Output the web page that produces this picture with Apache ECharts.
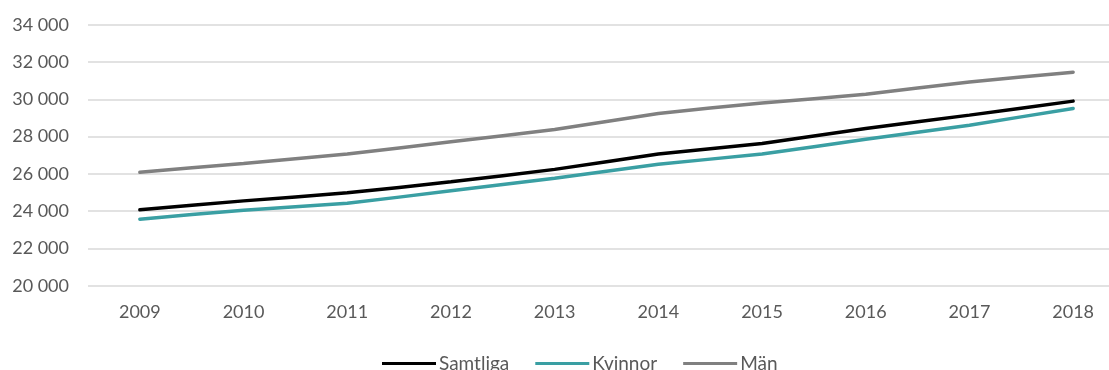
<!DOCTYPE html>
<html>
<head>
<meta charset="utf-8">
<script src="https://cdn.jsdelivr.net/npm/echarts@6/dist/echarts.min.js"></script>
<style>
  html, body { margin: 0; padding: 0; background: #fff; overflow: hidden; }
  #chart { width: 1109px; height: 370px; }
</style>
</head>
<body>
<div id="chart"></div>
<script>
// Years on the category axis
const years = ['2009', '2010', '2011', '2012', '2013', '2014', '2015', '2016', '2017', '2018'];

// Values per group
const samtliga = [24070, 24550, 24980, 25570, 26240, 27060, 27630, 28430, 29150, 29900];
const kvinnor  = [23570, 24050, 24420, 25090, 25760, 26520, 27060, 27860, 28610, 29510];
const man      = [26080, 26560, 27060, 27720, 28380, 29240, 29800, 30270, 30930, 31450];

const seriesNames = ['Samtliga', 'Kvinnor', 'Män'];
const seriesColors = ['#000000', '#3a9fa3', '#808080'];
const seriesData = [samtliga, kvinnor, man];

const textColor = '#595959';
const fontFamily = 'Lato, "Open Sans", sans-serif';

const chart = echarts.init(document.getElementById('chart'), null, { renderer: 'canvas' });

chart.setOption({
  animation: false,
  textStyle: { fontFamily: fontFamily },
  // plot area runs past the right edge of the canvas
  grid: { left: 88, width: 1037, top: 24.7, bottom: 84.3, outerBoundsMode: 'none', containLabel: false },
  legend: {
    left: 377,
    top: 349,
    itemWidth: 54,
    itemHeight: 3,
    itemGap: 26,
    icon: 'rect',
    textStyle: { color: textColor, fontSize: 19, fontFamily: fontFamily, padding: [0, 0, 0, -2] },
    data: seriesNames
  },
  xAxis: {
    type: 'category',
    data: years,
    boundaryGap: true,
    axisLine: { show: false },
    axisTick: { show: false },
    axisLabel: { color: textColor, fontSize: 18, margin: 17, fontFamily: fontFamily }
  },
  yAxis: {
    type: 'value',
    min: 20000,
    max: 34000,
    interval: 2000,
    axisLine: { show: false },
    axisTick: { show: false },
    splitLine: { lineStyle: { color: '#d9d9d9', width: 1.5 } },
    axisLabel: {
      color: textColor,
      fontSize: 18,
      margin: 19,
      fontFamily: fontFamily,
      formatter: function (v) {
        return String(v).replace(/\B(?=(\d{3})+(?!\d))/g, ' ');
      }
    }
  },
  series: seriesNames.map(function (name, i) {
    return {
      name: name,
      type: 'line',
      data: seriesData[i],
      smooth: 0.08,
      showSymbol: false,
      symbol: 'none',
      itemStyle: { color: seriesColors[i] },
      lineStyle: { color: seriesColors[i], width: 3.5, cap: 'round' },
      z: 3 - i
    };
  })
});
</script>
</body>
</html>
